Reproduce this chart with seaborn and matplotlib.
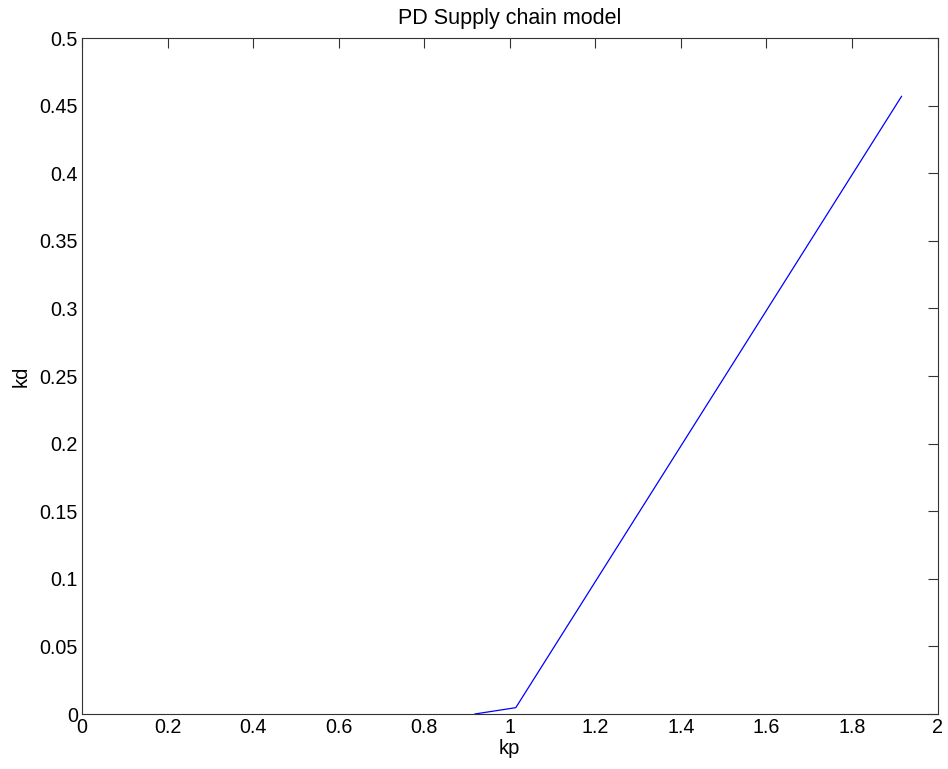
import matplotlib
matplotlib.use("Agg")
import matplotlib.pyplot as plt
import seaborn as sns
import pandas as pd

kp = [0.918, 1.014, 1.916]
kd = [0.0, 0.0047, 0.457]

x_ticks = [0, 0.2, 0.4, 0.6, 0.8, 1, 1.2, 1.4, 1.6, 1.8, 2]
x_labels = ["0", "0.2", "0.4", "0.6", "0.8", "1", "1.2", "1.4", "1.6", "1.8", "2"]
y_ticks = [0, 0.05, 0.1, 0.15, 0.2, 0.25, 0.3, 0.35, 0.4, 0.45, 0.5]
y_labels = ["0", "0.05", "0.1", "0.15", "0.2", "0.25", "0.3", "0.35", "0.4", "0.45", "0.5"]

sns.set_theme(style="white")
plt.rcParams['font.family'] = ['Liberation Sans', 'DejaVu Sans']
plt.rcParams['text.color'] = 'black'
plt.rcParams['axes.labelcolor'] = 'black'

df = pd.DataFrame({"kp": kp, "kd": kd})

fig = plt.figure(figsize=(9.48, 7.69), dpi=100)
ax = fig.add_axes([0.0865, 0.0715, 0.9025, 0.879])
sns.lineplot(data=df, x="kp", y="kd", sort=False, color=(0, 0, 1), linewidth=0.9, ax=ax)

ax.set_xlim(0, 2)
ax.set_ylim(0, 0.5)
ax.set_xticks(x_ticks)
ax.set_xticklabels(x_labels)
ax.set_yticks(y_ticks)
ax.set_yticklabels(y_labels)
ax.tick_params(direction="in", length=7, width=0.8, color="#333333", labelsize=14.2,
               top=True, right=True, labelcolor="black", pad=3)
for s in ax.spines.values():
    s.set_visible(True)
    s.set_color("#333333")
    s.set_linewidth(0.8)
ax.set_xlabel("kp", fontsize=14.5, labelpad=1)
ax.set_ylabel("kd", fontsize=14.5, labelpad=6)
ax.set_title("PD Supply chain model", fontsize=15.5, pad=10, color="black")
ax.grid(False)

fig.savefig("out.png", dpi=100)
